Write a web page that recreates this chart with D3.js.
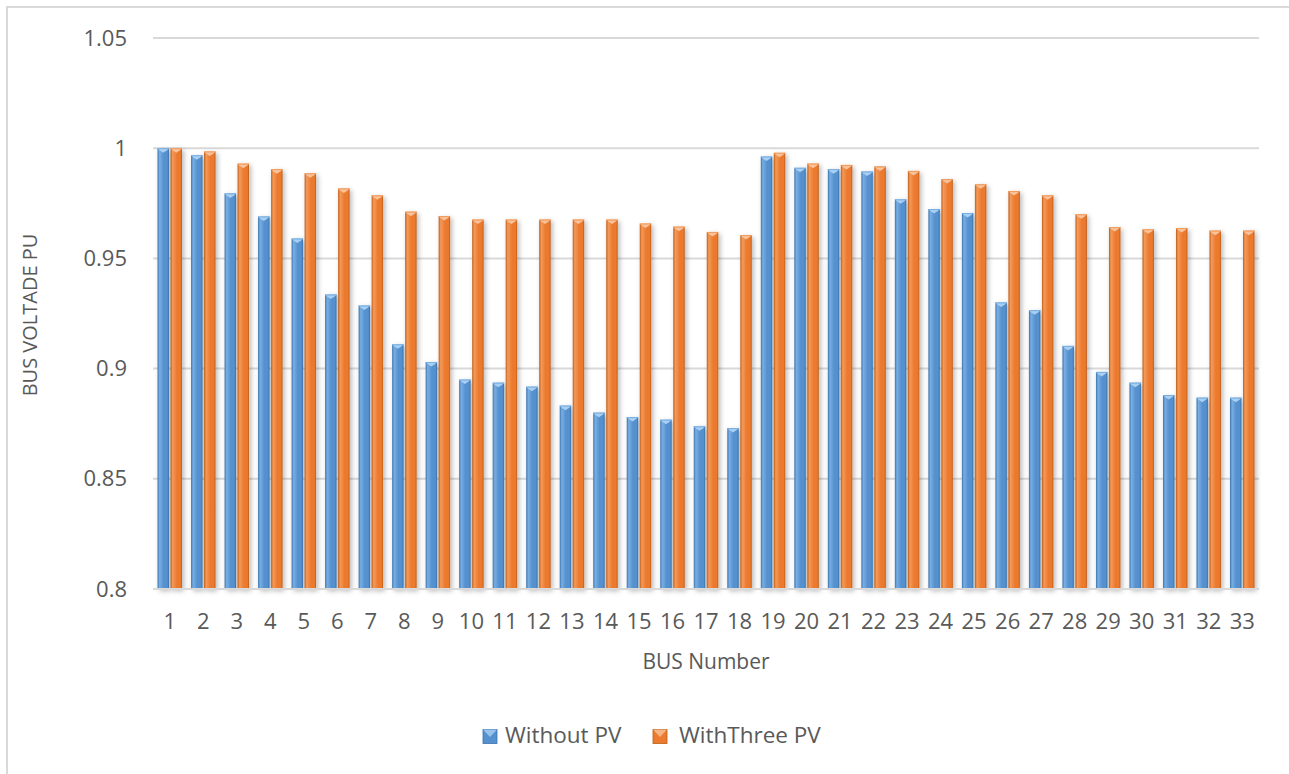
<!DOCTYPE html>
<html>
<head>
<meta charset="utf-8">
<script src="https://cdn.jsdelivr.net/npm/d3@7"></script>
<style>
  html, body { margin: 0; padding: 0; background: #fff; }
  svg { display: block; font-family: "Open Sans", "Noto Sans", sans-serif; }
</style>
</head>
<body>
<svg id="chart" width="1289" height="774"></svg>
<script>
// Bus numbers of the 33-bus feeder
const buses = d3.range(1, 34).map(String);

// Per-unit bus voltages without any PV units
const withoutPV = [
  1.000, 0.9968, 0.9795, 0.969, 0.959, 0.9336, 0.9286, 0.911, 0.903, 0.895,
  0.8936, 0.8918, 0.8832, 0.880, 0.878, 0.8768, 0.8738, 0.873, 0.9962, 0.9911,
  0.9905, 0.9894, 0.9768, 0.9724, 0.9706, 0.930, 0.9265, 0.9103, 0.8985, 0.8936,
  0.888, 0.8868, 0.8868
];

// Per-unit bus voltages with three PV units connected
const withThreePV = [
  1.000, 0.9985, 0.993, 0.9905, 0.9886, 0.9817, 0.9786, 0.9712, 0.9692, 0.9676,
  0.9676, 0.9676, 0.9676, 0.9676, 0.9658, 0.9644, 0.962, 0.9606, 0.9979, 0.993,
  0.9924, 0.9917, 0.9897, 0.986, 0.9836, 0.9806, 0.9786, 0.970, 0.9642, 0.9632,
  0.9638, 0.9626, 0.9626
];

const yTicks = [0.8, 0.85, 0.9, 0.95, 1, 1.05];
const seriesNames = ["Without PV", "WithThree PV"];
const seriesValues = [withoutPV, withThreePV];

const svg = d3.select("#chart");
const W = 1289, H = 774;
const plot = { left: 153, right: 1259, top: 38, bottom: 589 };
const textColor = "#595959";
const gridColor = "#d9d9d9";

// Palette: base, light, dark for each series
const palette = [
  { base: "#5590cf", light: "#78aee2", dark: "#3a73ad", bevel: "#a9d0f2" },
  { base: "#ec7a2f", light: "#f39a5a", dark: "#bf5c16", bevel: "#f8c39a" }
];

const defs = svg.append("defs");
palette.forEach((p, i) => {
  const g = defs.append("linearGradient").attr("id", "barGrad" + i)
    .attr("x1", "0").attr("x2", "1").attr("y1", "0").attr("y2", "0");
  g.append("stop").attr("offset", "0%").attr("stop-color", p.dark);
  g.append("stop").attr("offset", "18%").attr("stop-color", p.light);
  g.append("stop").attr("offset", "55%").attr("stop-color", p.base);
  g.append("stop").attr("offset", "85%").attr("stop-color", p.base);
  g.append("stop").attr("offset", "100%").attr("stop-color", p.dark);
});
const shadow = defs.append("filter").attr("id", "barShadow")
  .attr("x", "-50%").attr("y", "-5%").attr("width", "220%").attr("height", "115%");
shadow.append("feDropShadow").attr("dx", 2).attr("dy", 2)
  .attr("stdDeviation", 2.5).attr("flood-color", "#000").attr("flood-opacity", 0.28);

// Outer chart frame (right and bottom edges run past the view)
svg.append("rect")
  .attr("x", 7).attr("y", 7).attr("width", W + 20).attr("height", H + 20)
  .attr("fill", "#fff").attr("stroke", gridColor).attr("stroke-width", 2);

const x = d3.scaleBand().domain(buses)
  .range([plot.left, plot.right]).paddingInner(0.27).paddingOuter(0.135);
const xs = d3.scaleBand().domain(d3.range(2)).range([0, x.bandwidth()]).paddingInner(0.12);
const y = d3.scaleLinear().domain([0.8, 1.05]).range([plot.bottom, plot.top]);

// Horizontal gridlines
svg.append("g").selectAll("line").data(yTicks.filter(t => t > 0.8)).join("line")
  .attr("x1", plot.left).attr("x2", plot.right)
  .attr("y1", d => y(d)).attr("y2", d => y(d))
  .attr("stroke", gridColor).attr("stroke-width", 2);

// Y axis labels
const yAxis = d3.axisLeft(y).tickValues(yTicks).tickSize(0).tickPadding(0)
  .tickFormat(d => d3.format("")(+d.toFixed(2)));
svg.append("g").attr("transform", `translate(127,0)`).call(yAxis)
  .call(g => g.select(".domain").remove())
  .call(g => g.selectAll("text").attr("fill", textColor)
    .attr("font-size", 22).attr("font-family", "'Open Sans', sans-serif"));

// Bars
const groups = svg.append("g").selectAll("g.bus").data(buses).join("g")
  .attr("class", "bus").attr("transform", d => `translate(${x(d)},0)`);

groups.each(function(bus, bi) {
  const g = d3.select(this);
  seriesValues.forEach((vals, si) => {
    const v = vals[bi];
    const bx = xs(si), bw = xs.bandwidth();
    const top = y(v), bot = y(0.8);
    const bar = g.append("g").attr("filter", "url(#barShadow)");
    bar.append("rect")
      .attr("x", bx).attr("y", top).attr("width", bw).attr("height", bot - top)
      .attr("fill", `url(#barGrad${si})`);
    // angled bevel on the top face
    const bh = 4.5;
    bar.append("path")
      .attr("d", `M${bx},${top} L${bx + bw},${top} L${bx + bw - 2},${top + 2} L${bx + bw / 2},${top + bh} L${bx + 2},${top + 2} Z`)
      .attr("fill", palette[si].bevel);
    bar.append("line")
      .attr("x1", bx).attr("x2", bx + bw).attr("y1", top + 0.5).attr("y2", top + 0.5)
      .attr("stroke", palette[si].light).attr("stroke-width", 1);
  });
});

// Baseline
svg.append("line")
  .attr("x1", plot.left).attr("x2", plot.right)
  .attr("y1", plot.bottom).attr("y2", plot.bottom)
  .attr("stroke", gridColor).attr("stroke-width", 2);

// X axis labels
const xAxis = d3.axisBottom(x).tickSize(0).tickPadding(0);
svg.append("g").attr("transform", `translate(0,${plot.bottom + 34})`).call(xAxis)
  .call(g => g.select(".domain").remove())
  .call(g => g.selectAll("text").attr("fill", textColor)
    .attr("font-size", 22).attr("dy", "0").attr("dominant-baseline", "middle")
    .attr("font-family", "'Open Sans', sans-serif"));

// Axis titles
svg.append("text")
  .attr("x", 706).attr("y", 663)
  .attr("text-anchor", "middle").attr("dominant-baseline", "middle")
  .attr("fill", textColor).attr("font-size", 21)
  .text("BUS Number");

svg.append("text")
  .attr("transform", `translate(32,315) rotate(-90)`)
  .attr("text-anchor", "middle").attr("dominant-baseline", "middle")
  .attr("fill", textColor).attr("font-size", 20)
  .text("BUS VOLTADE PU");

// Legend
const legend = svg.append("g").attr("transform", "translate(0,737)");
const legendItems = [
  { name: seriesNames[0], sx: 483, tx: 505 },
  { name: seriesNames[1], sx: 653, tx: 679 }
];
legendItems.forEach((it, i) => {
  const p = palette[i];
  legend.append("rect").attr("x", it.sx).attr("y", -7.5).attr("width", 14).attr("height", 14)
    .attr("fill", p.base).attr("stroke", p.dark).attr("stroke-width", 0.8);
  legend.append("path")
    .attr("d", `M${it.sx},${-7.5} L${it.sx + 14},${-7.5} L${it.sx + 7},${0} Z`)
    .attr("fill", p.bevel).attr("opacity", 0.8);
  legend.append("text").attr("x", it.tx).attr("y", 0)
    .attr("dominant-baseline", "middle").attr("fill", textColor)
    .attr("font-size", 22.5).text(it.name);
});
</script>
</body>
</html>
